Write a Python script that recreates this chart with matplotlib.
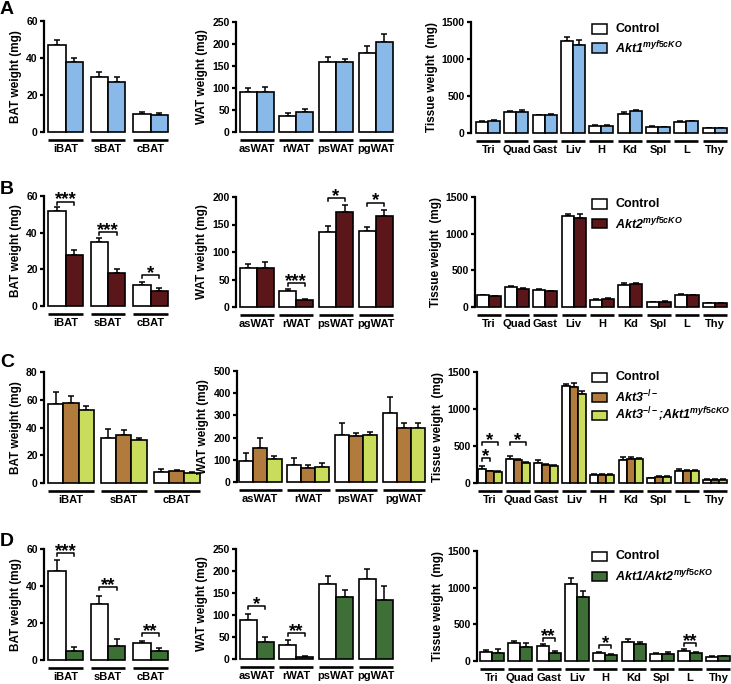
import matplotlib
matplotlib.use("Agg")
import matplotlib.pyplot as plt
from matplotlib.patches import Rectangle
import numpy as np

plt.rcParams['font.family'] = ['Liberation Sans', 'DejaVu Sans']
plt.rcParams['font.weight'] = 'bold'
plt.rcParams['axes.labelweight'] = 'bold'
plt.rcParams['mathtext.fontset'] = 'custom'
plt.rcParams['mathtext.it'] = 'Liberation Sans:italic:bold'
plt.rcParams['mathtext.rm'] = 'Liberation Sans:bold'
plt.rcParams['mathtext.bf'] = 'Liberation Sans:bold'

W, H = 731, 684

bat_groups = ['iBAT', 'sBAT', 'cBAT']
wat_groups = ['asWAT', 'rWAT', 'psWAT', 'pgWAT']
tis_groups = ['Tri', 'Quad', 'Gast', 'Liv', 'H', 'Kd', 'Spl', 'L', 'Thy']

# ---- A: Control vs Akt1 myf5cKO
a_bat = [[47, 29.8, 9.6], [38, 27, 9.4]]
a_bat_err = [[3, 2.7, 1.2], [2.2, 2.5, 1.1]]
a_wat = [[90, 37, 160, 179], [90, 45, 159, 204]]
a_wat_err = [[10, 6, 10, 16], [12, 7, 8, 19]]
a_tis = [[150, 285, 240, 1237, 95, 263, 82, 150, 68],
         [163, 290, 249, 1183, 95, 294, 77, 158, 63]]
a_tis_err = [[10, 15, 10, 55, 10, 25, 8, 10, 6],
             [10, 15, 10, 75, 10, 20, 8, 10, 6]]

# ---- B: Control vs Akt2 myf5cKO
b_bat = [[51.8, 34.7, 11.5], [27.8, 17.8, 8.4]]
b_bat_err = [[2.3, 2.3, 1.8], [2.7, 2.2, 1.2]]
b_wat = [[71.5, 30, 136, 139], [71.5, 12, 173, 165]]
b_wat_err = [[7, 3, 11, 6.5], [9.5, 3, 12, 11]]
b_tis = [[158, 271, 235, 1238, 99, 303, 68, 167, 54],
         [145, 244, 212, 1220, 108, 312, 72, 158, 54]]
b_tis_err = [[10, 12, 10, 36, 8, 22, 6, 10, 5],
             [10, 12, 10, 54, 8, 22, 6, 10, 5]]
b_bat_sig = [(0, 57, '***'), (1, 40.5, '***'), (2, 17, '*')]
b_wat_sig = [(1, 43.5, '***'), (2, 198, '*'), (3, 190, '*')]

# ---- C: Control vs Akt3-/- vs Akt3-/-;Akt1 myf5cKO
c_bat = [[57.2, 32.7, 7.9], [57.7, 34.9, 8.4], [52.4, 30.8, 7.2]]
c_bat_err = [[8.4, 6.5, 2.0], [4.8, 3.1, 1.2], [3.1, 1.7, 0.8]]
c_wat = [[95, 78, 211, 309], [155, 63, 206, 245], [105, 68, 211, 241]]
c_wat_err = [[36, 32, 56, 72], [45, 12, 15, 22], [11, 19, 12, 23]]
c_tis = [[195, 331, 276, 1305, 113, 308, 68, 159, 45],
         [159, 308, 249, 1291, 113, 331, 82, 159, 45],
         [150, 276, 231, 1201, 113, 331, 82, 159, 45]]
c_tis_err = [[36, 36, 41, 32, 10, 45, 6, 26, 4],
             [8, 10, 8, 59, 8, 20, 8, 12, 4],
             [8, 10, 8, 49, 8, 12, 8, 12, 4]]
c_tis_sig = [(0, 0, 1, 338, '*'), (0, 0, 2, 554, '*'), (1, 0, 2, 557, '*')]

# ---- D: Control vs Akt1/Akt2 myf5cKO
d_bat = [[47.9, 30.4, 9.4], [5.1, 7.6, 4.9]]
d_bat_err = [[6, 4.3, 0.9], [2.1, 3.6, 1.4]]
d_wat = [[89.4, 32.6, 171, 182], [38.6, 3.8, 141, 135]]
d_wat_err = [[13.6, 9.8, 17, 22.5], [11.4, 2.2, 15, 32]]
d_tis = [[118, 249, 204, 1056, 104, 254, 95, 140, 59],
         [113, 186, 113, 875, 82, 231, 95, 113, 68]]
d_tis_err = [[32, 27, 27, 81, 23, 45, 18, 23, 6],
             [46, 54, 23, 81, 13, 23, 32, 14, 6]]
d_bat_sig = [(0, 57.9, '***'), (1, 39.2, '**'), (2, 14.8, '**')]
d_wat_sig = [(0, 120, '*'), (1, 59, '**')]
d_tis_sig = [(2, 317, '**'), (4, 217, '*'), (7, 249, '**')]

WHITE = 'white'
BLUE = '#88b9e9'
DARKRED = '#5b1619'
BROWN = '#b07b3d'
LIME = '#c9dc5b'
GREEN = '#3e6f36'

fig = plt.figure(figsize=(W / 100, H / 100), dpi=100)


def panel(box, groups, means, errs, colors, ymax, ystep, ylabel, sig=()):
    spine_x, first_c, spacing, gw, y_top, y0 = box
    n = len(means)
    right_px = first_c + (len(groups) - 1) * spacing + gw / 2 + 2
    ax = fig.add_axes([spine_x / W, 1 - y0 / H, (right_px - spine_x) / W, (y0 - y_top) / H])
    ax_h = y0 - y_top
    ax.set_xlim((spine_x - first_c) / spacing, (right_px - first_c) / spacing)
    ax.set_ylim(0, ymax)
    w = gw / spacing / n
    gx = np.arange(len(groups))
    for k in range(n):
        xs = gx + (k - (n - 1) / 2) * w
        ax.errorbar(xs, means[k], yerr=[np.zeros(len(groups)), errs[k]], fmt='none',
                    ecolor='black', elinewidth=1.1, capsize=2.5, capthick=1.1, zorder=1)
        ax.bar(xs, means[k], width=w, color=colors[k], edgecolor='black',
               linewidth=1.2, clip_on=False, zorder=2)
    for i in gx:
        ax.plot([i - gw / spacing / 2, i + gw / spacing / 2], [-8 / ax_h] * 2,
                transform=ax.get_xaxis_transform(), clip_on=False, color='black',
                lw=1.9, solid_capstyle='butt')
    for s in sig:
        if len(s) == 3:
            g, y, txt = s
            a, b = 0, n - 1
        else:
            g, a, b, y, txt = s
        xa = g + (a - (n - 1) / 2) * w
        xb = g + (b - (n - 1) / 2) * w
        d = 3 * ymax / ax_h
        ax.plot([xa, xa, xb, xb], [y - d, y, y, y - d], color='black', lw=1.1,
                clip_on=False)
        ax.text((xa + xb) / 2, y - 3 * ymax / ax_h, txt, ha='center', va='baseline',
                fontsize=13.5)
    for sp in ['top', 'right', 'bottom']:
        ax.spines[sp].set_visible(False)
    ax.spines['left'].set_linewidth(1.6)
    ax.set_yticks(np.arange(0, ymax + 1, ystep))
    ax.tick_params(axis='y', direction='out', length=3, width=1.6, labelsize=7.5, pad=1.5)
    ax.set_xticks(gx)
    ax.set_xticklabels(groups, fontsize=8)
    ax.tick_params(axis='x', length=0, pad=8.5)
    ax.set_ylabel(ylabel, fontsize=8.5, fontweight='bold', labelpad=3)
    return ax


def legend(x, ys, labels, colors):
    for y, lab, c in zip(ys, labels, colors):
        fig.add_artist(Rectangle((x / W, 1 - (y + 4.5) / H), 15 / W, 9 / H,
                                 facecolor=c, edgecolor='black', linewidth=1.1,
                                 transform=fig.transFigure))
        style = 'normal' if lab == 'Control' else 'italic'
        fig.text((x + 23) / W, 1 - y / H, lab, fontsize=9, va='center',
                 fontstyle=style)


# row A
panel((44, 65.5, 42.5, 35, 21, 132), bat_groups, a_bat, a_bat_err, [WHITE, BLUE],
      60, 20, 'BAT weight (mg)')
panel((236, 256.5, 39.8, 34, 22, 132), wat_groups, a_wat, a_wat_err, [WHITE, BLUE],
      250, 50, 'WAT weight (mg)')
panel((471, 488.2, 28.3, 24, 22, 133), tis_groups, a_tis, a_tis_err, [WHITE, BLUE],
      1500, 500, 'Tissue weight  (mg)')
legend(592, [29, 48], ['Control', r'Akt1$^{myf5cKO}$'], [WHITE, BLUE])

# row B
panel((44, 65.5, 42.5, 35, 196, 306), bat_groups, b_bat, b_bat_err, [WHITE, DARKRED],
      60, 20, 'BAT weight (mg)', b_bat_sig)
panel((236, 256.5, 39.8, 34, 197, 307), wat_groups, b_wat, b_wat_err, [WHITE, DARKRED],
      200, 50, 'WAT weight (mg)', b_wat_sig)
panel((475, 488.7, 28.3, 24, 197, 307), tis_groups, b_tis, b_tis_err, [WHITE, DARKRED],
      1500, 500, 'Tissue weight  (mg)')
legend(592, [204, 224], ['Control', r'Akt2$^{myf5cKO}$'], [WHITE, DARKRED])

# row C
panel((44, 71, 52.75, 46, 372, 483), bat_groups, c_bat, c_bat_err, [WHITE, BROWN, LIME],
      80, 20, 'BAT weight (mg)')
panel((237, 260, 48, 43, 371, 482), wat_groups, c_wat, c_wat_err, [WHITE, BROWN, LIME],
      500, 100, 'WAT weight (mg)')
panel((477, 490, 28.1, 24, 372, 483), tis_groups, c_tis, c_tis_err, [WHITE, BROWN, LIME],
      1500, 500, 'Tissue weight  (mg)', c_tis_sig)
legend(592, [377, 397, 415],
       ['Control', r'Akt3$^{-/-}$', r'Akt3$^{-/-}$;Akt1$^{myf5cKO}$'],
       [WHITE, BROWN, LIME])

# row D
panel((44, 65.5, 42.5, 35, 549, 660), bat_groups, d_bat, d_bat_err, [WHITE, GREEN],
      60, 20, 'BAT weight (mg)', d_bat_sig)
panel((236, 256.5, 39.8, 34, 549, 659), wat_groups, d_wat, d_wat_err, [WHITE, GREEN],
      250, 50, 'WAT weight (mg)', d_wat_sig)
panel((477, 492, 28.3, 24, 551, 661), tis_groups, d_tis, d_tis_err, [WHITE, GREEN],
      1500, 500, 'Tissue weight  (mg)', d_tis_sig)
legend(592, [556, 576], ['Control', r'Akt1/Akt2$^{myf5cKO}$'], [WHITE, GREEN])

for letter, y in zip('ABCD', [10, 190, 362, 541]):
    fig.text(0, 1 - y / H, letter, fontsize=14, va='center', ha='left')

fig.savefig('out.png', dpi=100)
